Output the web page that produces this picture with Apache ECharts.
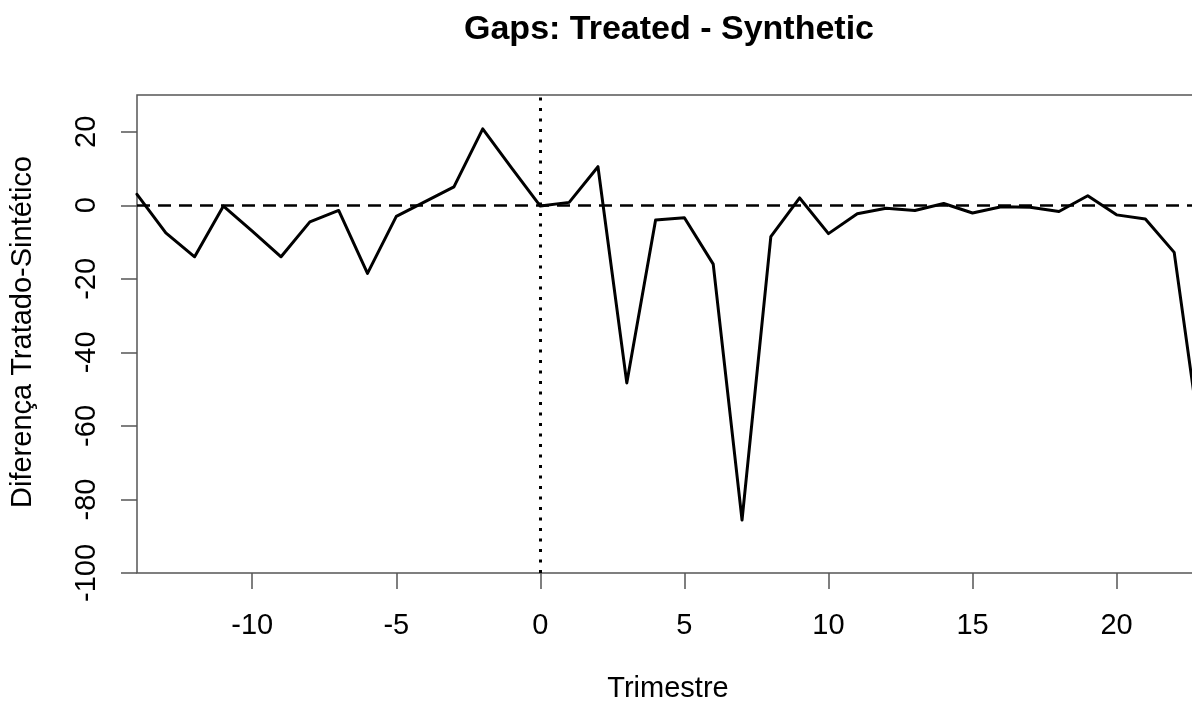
<!DOCTYPE html>
<html>
<head>
<meta charset="utf-8">
<script src="https://cdn.jsdelivr.net/npm/echarts@6/dist/echarts.min.js"></script>
<style>
html,body{margin:0;padding:0;background:#fff;overflow:hidden;width:1192px;height:702px;}
#chart{width:1203px;height:702px;}
</style>
</head>
<body>
<div id="chart"></div>
<script>
// Quarter relative to treatment
const quarters = [-14,-13,-12,-11,-10,-9,-8,-7,-6,-5,-4,-3,-2,-1,0,1,2,3,4,5,6,7,8,9,10,11,12,13,14,15,16,17,18,19,20,21,22,23];
// Gap: treated - synthetic
const gaps = [3.0,-7.5,-14.0,-0.2,-7.0,-14.0,-4.5,-1.4,-18.5,-3.0,1.0,5.0,20.8,10.2,-0.2,0.8,10.5,-48.3,-4.0,-3.4,-16.0,-85.6,-8.5,2.0,-7.7,-2.3,-0.8,-1.4,0.5,-2.1,-0.4,-0.5,-1.7,2.6,-2.6,-3.7,-12.8,-69.0];
const xTicks = [-10,-5,0,5,10,15,20];
const yTicks = [-100,-80,-60,-40,-20,0,20];
const xRange = [-14, 23];
const yRange = [-100, 30];
const titleText = 'Gaps: Treated - Synthetic';
const xTitle = 'Trimestre';
const yTitle = 'Diferença Tratado-Sintético';

const FONT = "'Liberation Sans', Arial, sans-serif";
const chart = echarts.init(document.getElementById('chart'), null, {renderer:'canvas'});
const axisCommon = {
  type: 'value',
  splitLine: {show:false},
  axisLine: {show:false, onZero:false},
  axisTick: {show:true, inside:false, length:16, lineStyle:{color:'#555', width:1.5}},
};
chart.setOption({
  animation: false,
  backgroundColor: '#fff',
  grid: {left:137, top:95, right:0, bottom:129, show:true, borderColor:'#555', borderWidth:1.5, backgroundColor:'transparent'},
  xAxis: Object.assign({}, axisCommon, {
    min: xRange[0], max: xRange[1],
    axisTick: Object.assign({}, axisCommon.axisTick, {customValues: xTicks}),
    axisLabel: {customValues: xTicks, margin:38, fontSize:29, color:'#000', fontFamily:FONT},
  }),
  yAxis: Object.assign({}, axisCommon, {
    min: yRange[0], max: yRange[1],
    axisTick: Object.assign({}, axisCommon.axisTick, {customValues: yTicks}),
    axisLabel: {customValues: yTicks, rotate:90, margin:36, fontSize:29, color:'#000', fontFamily:FONT},
  }),
  graphic: [
    {type:'text', x:669, y:30, style:{text:titleText, font:"bold 34px " + FONT, fill:'#000', textAlign:'center', textVerticalAlign:'middle'}},
    {type:'text', x:668, y:689, style:{text:xTitle, font:"29px " + FONT, fill:'#000', textAlign:'center', textVerticalAlign:'middle'}},
    {type:'text', x:23, y:332, rotation:Math.PI/2, style:{text:yTitle, font:"29px " + FONT, fill:'#000', textAlign:'center', textVerticalAlign:'middle'}}
  ],
  series: [{
    type: 'line',
    data: quarters.map((q,i)=>[q, gaps[i]]),
    showSymbol: false,
    symbol: 'none',
    lineStyle: {color:'#000', width:3, join:'round', cap:'round'},
    clip: true,
    markLine: {
      silent: true,
      symbol: ['none','none'],
      label: {show:false},
      animation: false,
      data: [
        {yAxis: 0, lineStyle:{type:[13,8], width:2.6, color:'#000'}},
        {xAxis: 0, lineStyle:{type:[3,7.5], width:3, color:'#000', cap:'butt'}}
      ]
    }
  }]
});
</script>
</body>
</html>
